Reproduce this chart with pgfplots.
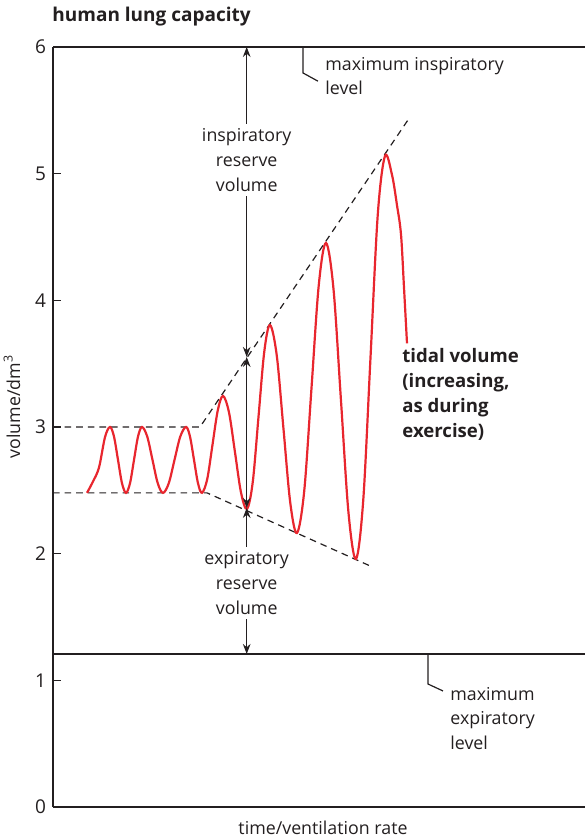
\documentclass[border=0pt]{standalone}
\usepackage{fontspec}
\setmainfont{Open Sans}
\usepackage{pgfplots}
\pgfplotsset{compat=1.18}
\usetikzlibrary{arrows.meta}
\definecolor{ink}{HTML}{231F20}
\definecolor{lungred}{HTML}{E8262E}

\begin{document}
\begin{tikzpicture}[font=\fontsize{8.9}{12.3}\selectfont]
\begin{axis}[
    scale only axis,
    width=266pt, height=380pt,
    xmin=53, xmax=585,
    ymin=0, ymax=6,
    axis lines*=left,
    axis line style={ink, line width=1pt},
    xtick=\empty,
    ytick={0,1,...,6},
    tick align=inside,
    major tick length=4pt,
    tick style={ink, line width=0.6pt},
    /pgf/number format/assume math mode=true,
    yticklabel style={font=\fontsize{9.5}{11}\selectfont, text=ink},
    clip=false,
]

% levels
\addplot[ink, line width=1pt] coordinates {(53,6)(585,6)};
\addplot[ink, line width=1pt] coordinates {(53,1.208)(585,1.208)};

% envelope of the tidal volume
\addplot[ink, line width=0.6pt, dash pattern=on 3.3pt off 2.5pt] coordinates {
    (53,3.0)(200,3.0)(408,5.424)
};
\addplot[ink, line width=0.6pt, dash pattern=on 3.3pt off 2.5pt] coordinates {
    (53,2.48)(207,2.48)(371,1.90)
};

% breathing trace
\addplot[lungred, line width=1.1pt, smooth, tension=0.55] coordinates {
    (87,2.48)(93,2.57)(99,2.68)(105,2.92)(110,3.0)
    (114,2.924)(118,2.74)(122,2.556)(126,2.48)
    (130,2.556)(134,2.74)(138,2.924)(142,3.0)
    (147.25,2.924)(152.5,2.74)(157.75,2.556)(163,2.48)
    (168.75,2.556)(174.5,2.74)(180.25,2.924)(186,3.0)
    (190,2.924)(194,2.74)(198,2.556)(202,2.48)
    (207.25,2.59)(212.5,2.86)(217.75,3.13)(223,3.245)
    (229,3.115)(235,2.80)(241,2.483)(247,2.353)
    (252.75,2.565)(258.5,3.08)(264.25,3.593)(270,3.805)
    (276.75,3.565)(283.5,2.984)(290.25,2.403)(297,2.163)
    (304.25,2.497)(311.5,3.308)(318.75,4.119)(326,4.453)
    (333.5,4.089)(341,3.206)(348.5,2.322)(356,1.958)
    (363.25,2.423)(370.5,3.549)(377.75,4.675)(385,5.14)
    (392,4.99)(397,4.75)(401,4.52)(404,4.10)(407,3.66)
};

% reserve volumes
\draw[ink, line width=0.6pt, {Stealth[length=5pt,width=3.8pt]}-{Stealth[length=5pt,width=3.8pt]}]
    (axis cs:246.7,6) -- (axis cs:246.7,3.553);
\draw[ink, line width=0.6pt, {Stealth[length=5pt,width=3.8pt]}-{Stealth[length=5pt,width=3.8pt]}]
    (axis cs:246.7,3.553) -- (axis cs:246.7,2.361);
\draw[ink, line width=0.6pt, {Stealth[length=5pt,width=3.8pt]}-{Stealth[length=5pt,width=3.8pt]}]
    (axis cs:246.7,2.361) -- (axis cs:246.7,1.208);
\node[fill=white, text=ink, align=center, inner sep=2.5pt] at (axis cs:246.7,5.108)
    {inspiratory\\reserve\\volume};
\node[fill=white, text=ink, align=center, inner sep=2.5pt] at (axis cs:246.7,1.768)
    {expiratory\\reserve\\volume};

% level labels
\draw[ink, line width=0.6pt] (axis cs:303,6) -- (axis cs:303,5.795) -- (axis cs:318,5.73);
\node[text=ink, align=left, anchor=west, inner sep=0pt] at (axis cs:325,5.77)
    {maximum inspiratory\\level};
\draw[ink, line width=0.6pt] (axis cs:428,1.208) -- (axis cs:428,0.971) -- (axis cs:443,0.916);
\node[text=ink, align=left, anchor=west, inner sep=0pt] at (axis cs:450,0.70)
    {maximum\\expiratory\\level};
\node[text=ink, align=left, anchor=west, inner sep=0pt, font=\fontsize{9.3}{12.5}\selectfont\bfseries]
    at (axis cs:402,3.26) {tidal volume\\(increasing,\\as during\\exercise)};

% title and axis labels
\node[text=ink, anchor=west, inner sep=0pt, font=\fontsize{9.5}{11}\selectfont\bfseries]
    at (axis cs:52,6.237) {human lung capacity};
\node[text=ink, inner sep=0pt] at (axis cs:323,-0.166) {time/ventilation rate};
\node[text=ink, inner sep=0pt, rotate=90] at (axis cs:12,3.16) {volume/dm\textsuperscript{3}};

\path (axis cs:0,6.371) rectangle (axis cs:585,-0.2526);
\end{axis}
\end{tikzpicture}
\end{document}
